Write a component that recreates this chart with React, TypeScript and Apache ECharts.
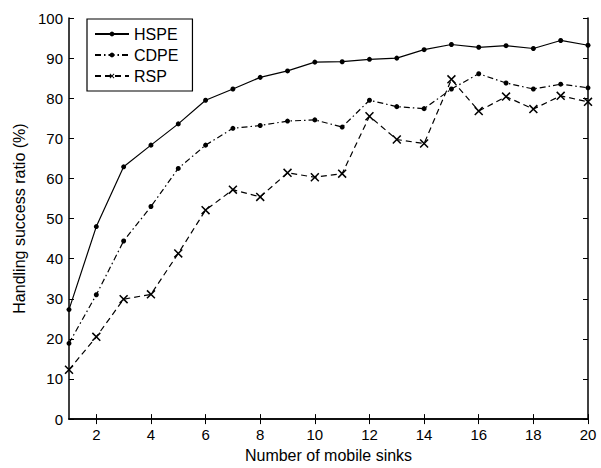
import React, { useEffect, useRef } from "react";
import * as echarts from "echarts";

const xValues = [1, 2, 3, 4, 5, 6, 7, 8, 9, 10, 11, 12, 13, 14, 15, 16, 17, 18, 19, 20];
const hspe = [27.3, 48.0, 62.9, 68.3, 73.6, 79.5, 82.3, 85.2, 86.8, 89.0, 89.1, 89.7, 90.0, 92.1, 93.4, 92.7, 93.1, 92.4, 94.4, 93.2];
const cdpe = [18.9, 31.0, 44.4, 53.0, 62.5, 68.3, 72.5, 73.2, 74.3, 74.6, 72.8, 79.5, 77.9, 77.4, 82.3, 86.1, 83.8, 82.3, 83.5, 82.6];
const rsp = [12.3, 20.5, 29.9, 31.1, 41.3, 52.1, 57.2, 55.4, 61.4, 60.3, 61.2, 75.5, 69.7, 68.7, 84.7, 76.8, 80.4, 77.3, 80.6, 79.1];
const xTicks = [2, 4, 6, 8, 10, 12, 14, 16, 18, 20];
const seriesNames = ["HSPE", "CDPE", "RSP"];

const FONT = "'Liberation Sans', Arial, Helvetica, sans-serif";
const CROSS = "path://M0,1.2L1.2,0L10,8.8L8.8,10Z M8.8,0L10,1.2L1.2,10L0,8.8Z";

export default function App() {
  const ref = useRef<HTMLDivElement>(null);
  useEffect(() => {
    if (!ref.current) return;
    const chart = echarts.init(ref.current, undefined, { renderer: "svg" });
    const pair = (arr: number[]) => xValues.map((x, i) => [x, arr[i]]);
    const axisLine = { show: true, lineStyle: { color: "#000", width: 1.5 } };
    chart.setOption({
      animation: false,
      backgroundColor: "#fff",
      textStyle: { fontFamily: FONT },
      grid: { left: 69, right: 13, top: 18, bottom: 41, containLabel: false },
      legend: {
        data: seriesNames,
        orient: "vertical",
        left: 87,
        top: 19,
        padding: [7, 14, 7, 7],
        itemGap: 5,
        itemWidth: 34,
        itemHeight: 6,
        borderColor: "#000",
        borderWidth: 1.2,
        backgroundColor: "#fff",
        textStyle: { fontFamily: FONT, fontSize: 16, color: "#000", lineHeight: 16 },
      },
      xAxis: [
        {
          type: "value",
          min: 1,
          max: 20,
          position: "bottom",
          name: "Number of mobile sinks",
          nameLocation: "middle",
          nameGap: 24,
          nameTextStyle: { fontFamily: FONT, fontSize: 16, color: "#000" },
          axisLine,
          splitLine: { show: false },
          axisTick: { show: true, inside: true, length: 5, customValues: xTicks, lineStyle: { color: "#000" } },
          axisLabel: { customValues: xTicks, margin: 8, fontFamily: FONT, fontSize: 15, color: "#000" },
        },
        {
          type: "value",
          min: 1,
          max: 20,
          position: "top",
          axisLine,
          splitLine: { show: false },
          axisTick: { show: true, inside: true, length: 5, customValues: xTicks, lineStyle: { color: "#000" } },
          axisLabel: { show: false },
        },
      ],
      yAxis: [
        {
          type: "value",
          min: 0,
          max: 100,
          interval: 10,
          position: "left",
          name: "Handling success ratio (%)",
          nameLocation: "middle",
          nameGap: 36,
          nameTextStyle: { fontFamily: FONT, fontSize: 16, color: "#000" },
          axisLine,
          splitLine: { show: false },
          axisTick: { show: true, inside: true, length: 5, lineStyle: { color: "#000" } },
          axisLabel: { margin: 6, fontFamily: FONT, fontSize: 15, color: "#000" },
        },
        {
          type: "value",
          min: 0,
          max: 100,
          interval: 10,
          position: "right",
          axisLine,
          splitLine: { show: false },
          axisTick: { show: true, inside: true, length: 5, lineStyle: { color: "#000" } },
          axisLabel: { show: false },
        },
      ],
      series: [
        {
          name: seriesNames[0],
          type: "line",
          data: pair(hspe),
          symbol: "circle",
          symbolSize: 5,
          itemStyle: { color: "#000" },
          lineStyle: { color: "#000", width: 1.2, type: "solid" },
        },
        {
          name: seriesNames[1],
          type: "line",
          data: pair(cdpe),
          symbol: "circle",
          symbolSize: 5,
          itemStyle: { color: "#000" },
          lineStyle: { color: "#000", width: 1.2, type: [6, 3, 1.5, 3] },
        },
        {
          name: seriesNames[2],
          type: "line",
          data: pair(rsp),
          symbol: CROSS,
          symbolSize: 9,
          itemStyle: { color: "#000" },
          lineStyle: { color: "#000", width: 1.2, type: [6, 4] },
        },
      ],
    });
    return () => chart.dispose();
  }, []);
  return (
    <div
      ref={ref}
      style={{ position: "fixed", left: 0, top: 0, width: 601, height: 468, background: "#fff" }}
    />
  );
}
